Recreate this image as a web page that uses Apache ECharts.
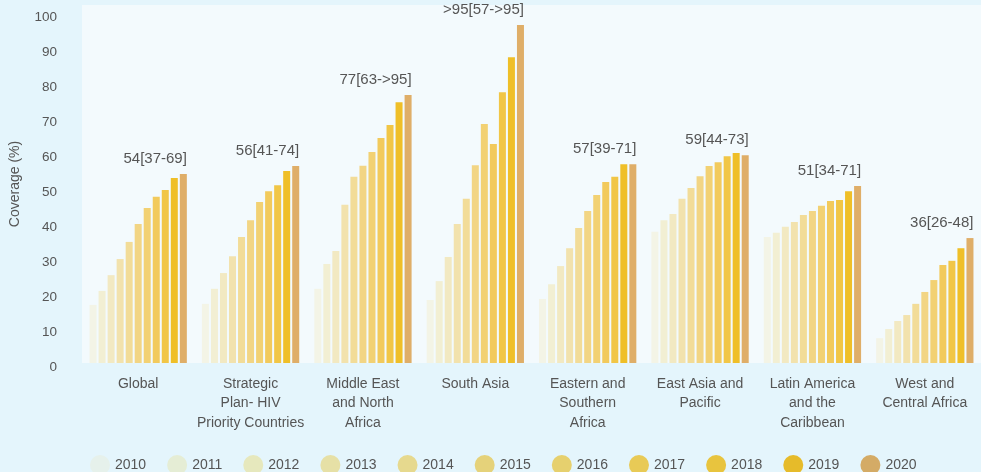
<!DOCTYPE html>
<html>
<head>
<meta charset="utf-8">
<script src="https://cdn.jsdelivr.net/npm/echarts@6/dist/echarts.min.js"></script>
<style>
html,body{margin:0;padding:0;background:#e4f5fc;}
#chart{width:981px;height:472px;}
</style>
</head>
<body>
<div id="chart"></div>
<script>
const categories = ['Global', 'Strategic\nPlan- HIV\nPriority Countries', 'Middle East\nand North\nAfrica', 'South Asia', 'Eastern and\nSouthern\nAfrica', 'East Asia and\nPacific', 'Latin America\nand the\nCaribbean', 'West and\nCentral Africa'];
const years = ['2010','2011','2012','2013','2014','2015','2016','2017','2018','2019','2020'];
const y2010 = [16.6, 16.9, 21.2, 18.0, 18.3, 37.5, 36.0, 7.1];
const y2011 = [20.6, 21.2, 28.3, 23.4, 22.5, 40.8, 37.2, 9.7];
const y2012 = [25.1, 25.7, 32.0, 30.3, 27.7, 42.6, 38.9, 12.0];
const y2013 = [29.7, 30.5, 45.2, 39.7, 32.8, 46.9, 40.3, 13.7];
const y2014 = [34.6, 36.0, 53.2, 46.9, 38.6, 50.0, 42.3, 16.9];
const y2015 = [39.7, 40.8, 56.4, 56.5, 43.4, 53.4, 43.4, 20.3];
const y2016 = [44.3, 46.0, 60.3, 68.3, 48.0, 56.3, 44.9, 23.7];
const y2017 = [47.5, 49.1, 64.3, 62.6, 51.7, 57.4, 46.3, 28.0];
const y2018 = [49.4, 50.8, 68.0, 77.4, 53.2, 59.1, 46.6, 29.2];
const y2019 = [52.9, 54.9, 74.5, 87.4, 56.8, 60.0, 49.1, 32.8];
const y2020 = [54.0, 56.3, 76.6, 96.6, 56.8, 59.4, 50.6, 35.7];
const annotations = ['54[37-69]', '56[41-74]', '77[63->95]', '>95[57->95]', '57[39-71]', '59[44-73]', '51[34-71]', '36[26-48]'];
const yTicks = [0,10,20,30,40,50,60,70,80,90,100];

const seriesValues = [y2010,y2011,y2012,y2013,y2014,y2015,y2016,y2017,y2018,y2019,y2020];
const barColors = ['#f3f4e6','#f2efd3','#f2e9c2','#f2e2ad','#f2dc98','#f2d584','#f2d173','#f2ca5c','#f1c646','#efbf28','#dfae68'];
const legendColors = ['#e6f1eb','#e5edd5','#e6e8bd','#e6e0a6','#e6d98e','#e5d27a','#e6d06e','#e8ca56','#e8c43e','#e6bb2a','#d4ab66'];
const FONT = '"Liberation Sans", Arial, sans-serif';
const TXT = '#555555';

const chart = echarts.init(document.getElementById('chart'));
const series = years.map((yr, i) => {
  const s = {
    name: yr, type: 'bar', data: seriesValues[i], barWidth: 7, barGap: '29%',
    itemStyle: { color: barColors[i] }
  };
  if (i === years.length - 1) {
    s.label = {
      show: true, position: 'top', align: 'right', distance: 8, offset: [3.5, 0],
      fontSize: 15, color: TXT, fontFamily: FONT,
      formatter: p => annotations[p.dataIndex]
    };
  }
  return s;
});

chart.setOption({
  animation: false,
  backgroundColor: '#e4f5fc',
  textStyle: { fontFamily: FONT },
  grid: { left: 82, top: 5, bottom: 109, width: 902, show: true, backgroundColor: '#f3fafd', borderWidth: 0 },
  legend: {
    left: 85, top: 450, icon: 'circle', itemWidth: 20, itemHeight: 20, itemGap: 21,
    textStyle: { fontSize: 14, color: TXT, fontFamily: FONT },
    data: years.map((yr, i) => ({ name: yr, itemStyle: { color: legendColors[i] } }))
  },
  xAxis: {
    type: 'category', data: categories,
    axisLine: { show: false }, axisTick: { show: false },
    axisLabel: { interval: 0, margin: 11, fontSize: 14, lineHeight: 19.5, color: TXT, fontFamily: FONT }
  },
  yAxis: {
    type: 'value', min: 0, max: 102.3, interval: 10,
    name: 'Coverage (%)', nameLocation: 'middle', nameGap: 60,
    nameTextStyle: { fontSize: 14, color: TXT, fontFamily: FONT },
    splitLine: { show: false }, axisLine: { show: false }, axisTick: { show: false },
    axisLabel: {
      margin: 25, fontSize: 13.5, color: TXT, fontFamily: FONT, verticalAlign: 'top', lineHeight: 9,
      formatter: v => yTicks.indexOf(Math.round(v * 10) / 10) >= 0 ? String(v) : ''
    }
  },
  series: series
});
</script>
</body>
</html>
